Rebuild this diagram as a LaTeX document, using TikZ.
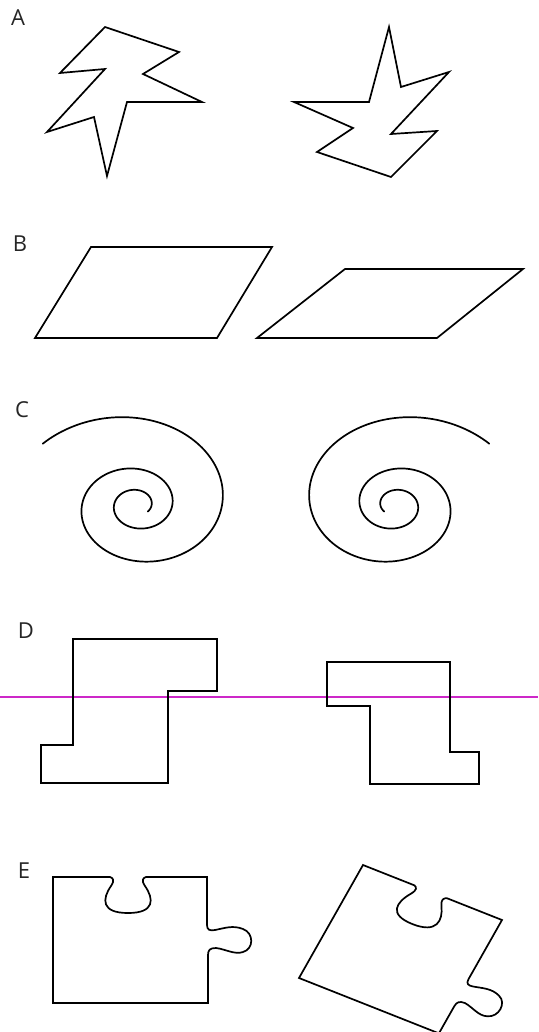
\documentclass[tikz,border=0pt]{standalone}
\usepackage{fontspec}
\setmainfont{Open Sans}
\definecolor{magln}{RGB}{205,40,200}
\newcommand\mypuzzle[2]{%
\draw[#1] (0,0) -- (57,0) .. controls (60,1) and (62,3) .. (58,9)
 .. controls (49,22) and (48,36) .. (75,36)
 .. controls (102,36) and (101,22) .. (92,9)
 .. controls (88,3) and (90,1) .. (93,0)
 -- (154,0) -- (154,48+#2)
 .. controls (154,53+#2) and (157,54+#2) .. (162,53+#2)
 .. controls (172,51+#2) and (180,48+#2) .. (190,52+#2)
 .. controls (201,56+#2) and (201,72+#2) .. (190,75+#2)
 .. controls (182,78+#2) and (172,72+#2) .. (163,71+#2)
 .. controls (157,71+#2) and (155,73+#2) .. (155,78+#2)
 -- (155,126) -- (0,126) -- cycle;}
\newcommand\myspiral{%
\draw[outl, line cap=round] plot[domain=-0.9:14.77, samples=400, variable=\t]
  ({136.9+106*exp(-0.1396*\t)*sin(\t r)}, {505-87*exp(-0.1396*\t)*cos(\t r)});}
\begin{document}
\begin{tikzpicture}[x=1pt,y=-1pt,
  outl/.style={draw=black, line width=1.7pt},
  lbl/.style={font=\fontsize{22}{22}\selectfont, inner sep=0pt, text=black!85},
  magline/.style={draw=magln, line width=1.2pt}]
\useasboundingbox (0,0) rectangle (538,1032);
\fill[white] (0,0) rectangle (538,1032);
% labels
\node[lbl] (lA) at (18,18) {A};
\node[lbl] (lB) at (20,244) {B};
\node[lbl] (lC) at (22,410) {C};
\node[lbl] (lD) at (26,631) {D};
\node[lbl] (lE) at (24,871) {E};
% A
\draw[outl] (105,27) -- (179,52) -- (143,74) -- (202,102) -- (127,102) -- (107,176)
  -- (94,117) -- (47,132) -- (105,69) -- (60,73) -- cycle;
\draw[outl] (389,27) -- (401,87) -- (449,72) -- (391,134) -- (437,131) -- (391,177)
  -- (317,152) -- (353,128) -- (294,102) -- (369,102) -- cycle;
% B
\draw[outl] (91,247) -- (272,247) -- (217,338) -- (35,338) -- cycle;
\draw[outl] (345,269) -- (523,269) -- (437,338) -- (257,338) -- cycle;
% C
\myspiral
\begin{scope}[xshift=532pt, xscale=-1]
\myspiral
\end{scope}
% D
\draw[magline] (0,697) -- (538,697);
\draw[outl] (73,639) -- (217,639) -- (217,691) -- (168,691) -- (168,783) -- (41,783)
  -- (41,745) -- (73,745) -- cycle;
\draw[outl] (327,662) -- (450,662) -- (450,752) -- (479,752) -- (479,784) -- (370,784)
  -- (370,706) -- (327,706) -- cycle;
% E
\begin{scope}[shift={(53,877)}]
\mypuzzle{outl}{0}
\end{scope}
\begin{scope}[shift={(363,865)}, x={(0.9026pt,-0.3571pt)}, y={(-0.5079pt,-0.8968pt)}]
\mypuzzle{outl}{18}
\end{scope}
\end{tikzpicture}
\end{document}
